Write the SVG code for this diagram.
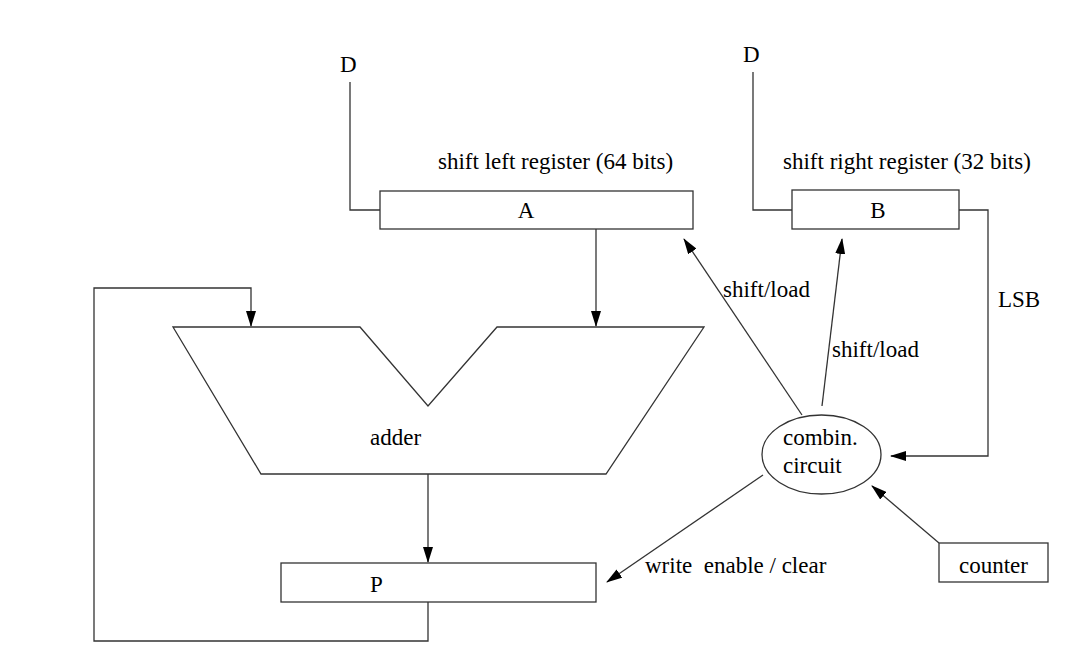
<svg xmlns="http://www.w3.org/2000/svg" width="1075" height="658" viewBox="0 0 1075 658">
<style>
  .shape { fill: #ffffff; stroke: #333333; stroke-width: 1.3; }
  .wire { fill: none; stroke: #333333; stroke-width: 1.3; }
  .arr { marker-end: url(#ah); }
  text { font-family: 'Liberation Serif', 'DejaVu Serif', serif; font-size: 23px; fill: #000000; }
  .mid { text-anchor: middle; }
</style>
<defs>
  <marker id="ah" markerUnits="userSpaceOnUse" markerWidth="16" markerHeight="10" viewBox="0 0 16 10" refX="15" refY="5" orient="auto">
    <path d="M0,0 L16,5 L0,10 Z" fill="#000000"/>
  </marker>
</defs>
<rect width="1075" height="658" fill="#ffffff"/>

<g id="connectors">
  <polyline class="wire" points="350,82 350,210 380,210"/>
  <polyline class="wire" points="753,72 753,210 792,210"/>
  <polyline class="wire arr" points="959,210 988,210 988,456 891,456"/>
  <line class="wire arr" x1="596" y1="229" x2="596" y2="326"/>
  <polyline class="wire arr" points="428,602 428,641 94,641 94,288 251,288 251,326"/>
  <line class="wire arr" x1="428" y1="474" x2="428" y2="562"/>
  <line class="wire arr" x1="802" y1="415" x2="684" y2="239"/>
  <line class="wire arr" x1="822" y1="406" x2="842" y2="239"/>
  <line class="wire arr" x1="763" y1="475" x2="607" y2="582"/>
  <line class="wire arr" x1="939" y1="543" x2="872" y2="486"/>
  <text x="723" y="297" font-family="Liberation Serif, serif">shift/load</text>
  <text x="832" y="357" font-family="Liberation Serif, serif">shift/load</text>
  <text x="998" y="307" font-family="Liberation Serif, serif">LSB</text>
  <text x="645" y="573" font-family="Liberation Serif, serif" xml:space="preserve">write  enable / clear</text>
</g>

<g id="D-left">
  <text x="340" y="72" font-family="Liberation Serif, serif">D</text>
</g>
<g id="D-right">
  <text x="743" y="62" font-family="Liberation Serif, serif">D</text>
</g>

<g id="reg-A">
  <text x="438" y="169" font-family="Liberation Serif, serif">shift left register (64 bits)</text>
  <rect class="shape" x="380" y="191" width="313" height="38"/>
  <text class="mid" x="526" y="218" font-family="Liberation Serif, serif">A</text>
</g>

<g id="reg-B">
  <text x="783" y="169" font-family="Liberation Serif, serif">shift right register (32 bits)</text>
  <rect class="shape" x="792" y="190" width="167" height="39"/>
  <text class="mid" x="878" y="218" font-family="Liberation Serif, serif">B</text>
</g>

<g id="adder">
  <polygon class="shape" points="173,327 360,327 428,406 497,327 704,327 606,474 261,474"/>
  <text x="370" y="445" font-family="Liberation Serif, serif">adder</text>
</g>

<g id="reg-P">
  <rect class="shape" x="281" y="563" width="315" height="39"/>
  <text x="370" y="592" font-family="Liberation Serif, serif">P</text>
</g>

<g id="combin">
  <ellipse class="shape" cx="821.5" cy="454.5" rx="59.5" ry="39.5"/>
  <text x="783" y="445" font-family="Liberation Serif, serif">combin.</text>
  <text x="783" y="473" font-family="Liberation Serif, serif">circuit</text>
</g>

<g id="counter">
  <rect class="shape" x="939" y="543" width="109" height="39"/>
  <text x="959" y="573" font-family="Liberation Serif, serif">counter</text>
</g>
</svg>
